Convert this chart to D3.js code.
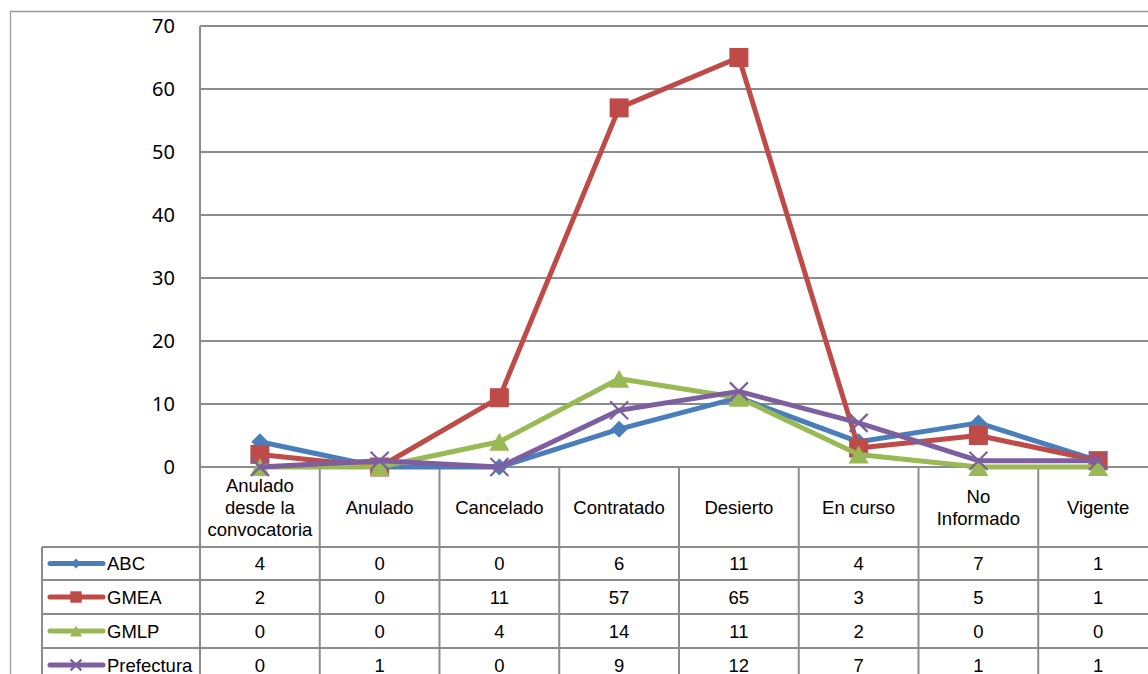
<!DOCTYPE html>
<html>
<head>
<meta charset="utf-8">
<script src="https://cdn.jsdelivr.net/npm/d3@7"></script>
<style>
html,body{margin:0;padding:0;background:#fff;}
svg{display:block;}
</style>
</head>
<body>
<svg id="chart" width="1148" height="674"></svg>
<script>
const categories = [["Anulado","desde la","convocatoria"],["Anulado"],["Cancelado"],["Contratado"],["Desierto"],["En curso"],["No","Informado"],["Vigente"]];
const seriesNames = ["ABC","GMEA","GMLP","Prefectura"];
const abc = [4,0,0,6,11,4,7,1];
const gmea = [2,0,11,57,65,3,5,1];
const gmlp = [0,0,4,14,11,2,0,0];
const prefectura = [0,1,0,9,12,7,1,1];
const yTicks = [0,10,20,30,40,50,60,70];

const seriesValues = [abc, gmea, gmlp, prefectura];
const colors = ["#4A7EBB","#BE4B48","#98B954","#7D5FA0"];
const markers = ["diamond","square","triangle","x"];

(function(){
const svg = d3.select("#chart");
const gridColor = "#8c8c8c";
const pLeft = 200, pRight = 1158, pTop = 26, pBottom = 467;
const tableLeft = 42;
const rowEdges = [467, 547, 580, 614, 648, 682];

const catKeys = categories.map((c,i)=>i);
const x = d3.scaleBand().domain(catKeys).range([pLeft, pRight]);
const y = d3.scaleLinear().domain([0,70]).range([pBottom, pTop]);

// outer chart border
svg.append("path").attr("d", `M10.5,700 V11.5 H1160`).attr("fill","none").attr("stroke","#9a9a9a").attr("stroke-width",1.3);

// gridlines
svg.append("g").selectAll("line").data(yTicks).join("line")
  .attr("x1", pLeft).attr("x2", pRight)
  .attr("y1", d=>y(d)).attr("y2", d=>y(d))
  .attr("stroke", gridColor).attr("stroke-width", 2);

// y axis line
svg.append("line").attr("x1",pLeft).attr("x2",pLeft).attr("y1",pTop).attr("y2",674)
  .attr("stroke",gridColor).attr("stroke-width",2);

// y tick labels
svg.append("g").selectAll("text").data(yTicks).join("text")
  .attr("x", 175).attr("y", d=>y(d)+7)
  .attr("text-anchor","end")
  .attr("font-family","'Noto Sans', 'Open Sans', sans-serif")
  .attr("font-size", 20).attr("fill","#000")
  .text(d=>d);

// table grid
const tg = svg.append("g");
const edges = catKeys.map(i=>x(i)).concat([pRight]);
tg.selectAll("line.v").data(edges).join("line").attr("class","v")
  .attr("x1",d=>d).attr("x2",d=>d).attr("y1",pBottom).attr("y2",674)
  .attr("stroke",gridColor).attr("stroke-width",2);
tg.append("line").attr("x1",tableLeft).attr("x2",tableLeft).attr("y1",rowEdges[1]).attr("y2",674)
  .attr("stroke",gridColor).attr("stroke-width",2);
tg.selectAll("line.h").data(rowEdges.slice(1,5)).join("line").attr("class","h")
  .attr("x1",tableLeft).attr("x2",pRight).attr("y1",d=>d).attr("y2",d=>d)
  .attr("stroke",gridColor).attr("stroke-width",2);

// category header text
const fontT = "'Liberation Sans', Arial, sans-serif";
const hdr = svg.append("g");
categories.forEach((lines,i)=>{
  const cx = x(i) + x.bandwidth()/2;
  const lh = 22;
  const cy = (rowEdges[0]+rowEdges[1])/2;
  const startY = cy - (lines.length-1)*lh/2;
  lines.forEach((ln,j)=>{
    hdr.append("text").attr("x",cx).attr("y",startY + j*lh + 6.5)
      .attr("text-anchor","middle").attr("font-family",fontT).attr("font-size",18.5)
      .attr("fill","#000").text(ln);
  });
});

function drawMarker(g, type, cx, cy, color, scale=1){
  if(type==="diamond"){
    const s=8.5*scale;
    g.append("path").attr("d",`M${cx},${cy-s} L${cx+s},${cy} L${cx},${cy+s} L${cx-s},${cy} Z`).attr("fill",color);
  } else if(type==="square"){
    const s=9.5*scale;
    g.append("rect").attr("x",cx-s).attr("y",cy-s).attr("width",2*s).attr("height",2*s).attr("fill",color);
  } else if(type==="triangle"){
    const w=10*scale, h=9*scale;
    g.append("path").attr("d",`M${cx},${cy-h} L${cx+w},${cy+h} L${cx-w},${cy+h} Z`).attr("fill",color);
  } else {
    const s=9*scale;
    g.append("path").attr("d",`M${cx-s},${cy-s} L${cx+s},${cy+s} M${cx+s},${cy-s} L${cx-s},${cy+s}`)
      .attr("stroke",color).attr("stroke-width",2.2).attr("fill","none");
  }
}

const line = d3.line().x((d,i)=>x(i)+x.bandwidth()/2).y(d=>y(d));
seriesValues.forEach((vals,si)=>{
  const g = svg.append("g");
  g.append("path").datum(vals).attr("d",line).attr("fill","none")
    .attr("stroke",colors[si]).attr("stroke-width",5).attr("stroke-linejoin","round").attr("stroke-linecap","round");
  vals.forEach((v,i)=>drawMarker(g, markers[si], x(i)+x.bandwidth()/2, y(v), colors[si]));
});

seriesNames.forEach((name,si)=>{
  const r0 = rowEdges[si+1], r1 = rowEdges[si+2];
  const cy = (r0+Math.min(r1, r0+34))/2;
  const g = svg.append("g");
  g.append("line").attr("x1",50).attr("x2",103).attr("y1",cy).attr("y2",cy)
    .attr("stroke",colors[si]).attr("stroke-width",5).attr("stroke-linecap","round");
  drawMarker(g, markers[si], 76, cy, colors[si], 0.6);
  g.append("text").attr("x",107).attr("y",cy+6.5).attr("font-family",fontT).attr("font-size",18.5)
    .attr("fill","#000").text(name);
  seriesValues[si].forEach((v,i)=>{
    g.append("text").attr("x",x(i)+x.bandwidth()/2).attr("y",cy+6.5)
      .attr("text-anchor","middle").attr("font-family",fontT).attr("font-size",18.5)
      .attr("fill","#000").text(v);
  });
});
})();
</script>
</body>
</html>
